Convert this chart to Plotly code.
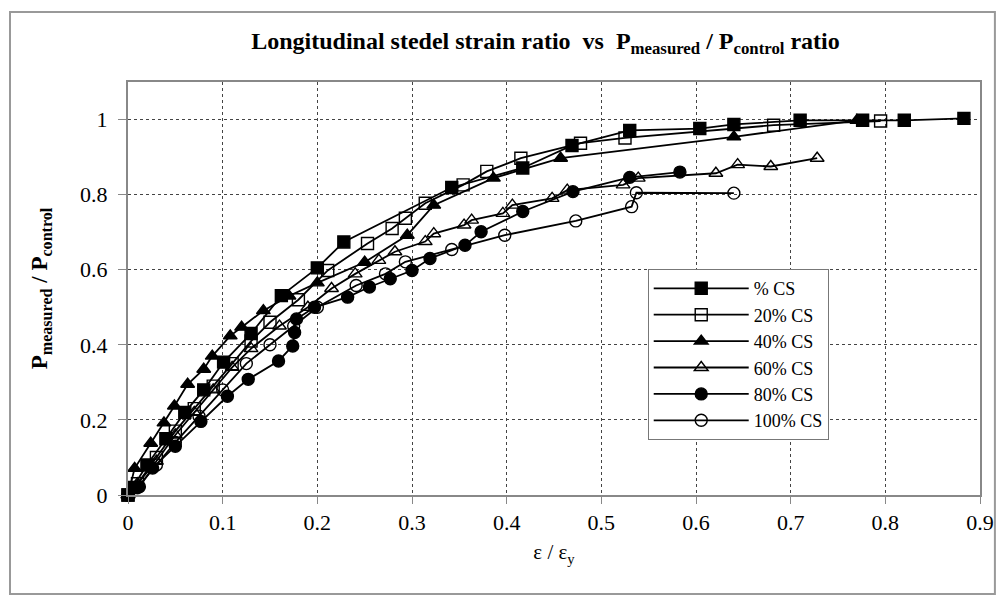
import plotly.graph_objects as go

# ---- data (x = eps/eps_y, y = P_measured/P_control)
names = ["% CS", "20% CS", "40% CS", "60% CS", "80% CS", "100% CS"]
symbols = ["square", "square-open", "triangle-up", "triangle-up-open", "circle", "circle-open"]

x_cs0 = [0, 0.005, 0.02, 0.04, 0.06, 0.08, 0.101, 0.13, 0.162, 0.2, 0.228, 0.342, 0.417, 0.469, 0.530, 0.604, 0.640, 0.710, 0.776, 0.820, 0.883]
y_cs0 = [0, 0.02, 0.08, 0.15, 0.22, 0.28, 0.354, 0.43, 0.531, 0.605, 0.674, 0.819, 0.871, 0.931, 0.971, 0.976, 0.987, 0.998, 0.998, 0.998, 1.003]

x_cs20 = [0, 0.01, 0.03, 0.05, 0.07, 0.09, 0.11, 0.13, 0.15, 0.18, 0.211, 0.253, 0.279, 0.293, 0.314, 0.354, 0.379, 0.415, 0.478, 0.525, 0.682, 0.795]
y_cs20 = [0, 0.03, 0.10, 0.17, 0.23, 0.29, 0.35, 0.41, 0.46, 0.52, 0.598, 0.670, 0.710, 0.737, 0.777, 0.826, 0.862, 0.897, 0.937, 0.951, 0.985, 0.996]

x_cs40 = [0, 0.007, 0.024, 0.038, 0.049, 0.063, 0.080, 0.089, 0.108, 0.120, 0.143, 0.17, 0.2, 0.25, 0.295, 0.323, 0.386, 0.457, 0.640, 0.770]
y_cs40 = [0, 0.071, 0.138, 0.192, 0.237, 0.295, 0.335, 0.370, 0.424, 0.447, 0.491, 0.53, 0.565, 0.62, 0.692, 0.772, 0.844, 0.897, 0.954, 0.998]

x_cs60 = [0, 0.01, 0.03, 0.05, 0.07, 0.09, 0.11, 0.13, 0.16, 0.19, 0.215, 0.24, 0.265, 0.282, 0.314, 0.323, 0.355, 0.363, 0.396, 0.406, 0.448, 0.464, 0.523, 0.539, 0.621, 0.644, 0.679, 0.728]
y_cs60 = [0, 0.03, 0.09, 0.16, 0.22, 0.28, 0.34, 0.39, 0.45, 0.50, 0.55, 0.589, 0.625, 0.648, 0.675, 0.696, 0.719, 0.732, 0.750, 0.772, 0.790, 0.812, 0.826, 0.844, 0.857, 0.880, 0.875, 0.897]

x_cs80 = [0, 0.012, 0.026, 0.05, 0.077, 0.105, 0.127, 0.159, 0.174, 0.176, 0.178, 0.197, 0.232, 0.255, 0.277, 0.300, 0.319, 0.356, 0.373, 0.417, 0.470, 0.530, 0.583]
y_cs80 = [0, 0.022, 0.072, 0.13, 0.196, 0.263, 0.308, 0.357, 0.397, 0.433, 0.469, 0.500, 0.527, 0.554, 0.576, 0.598, 0.630, 0.665, 0.701, 0.755, 0.808, 0.846, 0.860]

x_cs100 = [0, 0.01, 0.03, 0.05, 0.075, 0.10, 0.125, 0.15, 0.175, 0.20, 0.241, 0.272, 0.293, 0.342, 0.398, 0.473, 0.532, 0.537, 0.640]
y_cs100 = [0, 0.02, 0.08, 0.14, 0.21, 0.28, 0.35, 0.40, 0.45, 0.50, 0.558, 0.589, 0.621, 0.654, 0.692, 0.730, 0.768, 0.805, 0.804]

xs = [x_cs0, x_cs20, x_cs40, x_cs60, x_cs80, x_cs100]
ys = [y_cs0, y_cs20, y_cs40, y_cs60, y_cs80, y_cs100]

x_ticks = [0, 0.1, 0.2, 0.3, 0.4, 0.5, 0.6, 0.7, 0.8, 0.9]
y_ticks = [0, 0.2, 0.4, 0.6, 0.8, 1]

SERIF = "Liberation Serif"

fig = go.Figure()
for i in range(len(names)):
    fig.add_trace(go.Scatter(
        x=xs[i], y=ys[i], name=names[i], mode="lines+markers",
        legendgroup=str(i),
        line=dict(color="black", width=1.8),
        marker=dict(symbol=symbols[i], size=12, color="black",
                    line=dict(color="black", width=1.4)),
        cliponaxis=False,
    ))

# the page body adds an 8px offset, so the figure is 8px smaller each way
fig.update_layout(
    width=998, height=591,
    margin=dict(l=120, r=19, t=74, b=104),
    paper_bgcolor="white", plot_bgcolor="white",
    font=dict(family=SERIF, color="black", size=22),
    title=dict(
        text="<b>Longitudinal stedel strain ratio  vs  P<sub>measured</sub> / P<sub>control</sub> ratio</b>",
        x=0.49, xref="paper", xanchor="center", y=0.945, yanchor="middle",
        font=dict(family=SERIF, size=24, color="black"),
    ),
    legend=dict(
        x=0.61, y=0.547, xanchor="left", yanchor="top",
        bgcolor="white", bordercolor="#777", borderwidth=1,
        font=dict(family=SERIF, size=18, color="black"),
        tracegroupgap=0, itemwidth=95,
    ),
    showlegend=True,
)

fig.update_xaxes(
    range=[0, 0.9], tickvals=x_ticks, ticktext=[f"{v:g}" for v in x_ticks],
    showgrid=True, gridcolor="#444", griddash="dot", gridwidth=1,
    showline=True, linecolor="#888", linewidth=2, mirror=True,
    ticks="outside", ticklen=7, tickcolor="#888",
    zeroline=False,
    tickfont=dict(family=SERIF, size=22),
    title=dict(text="ε / ε<sub>y</sub>", font=dict(family=SERIF, size=21), standoff=10),
)
fig.update_yaxes(
    range=[0, 1.1], tickvals=y_ticks, ticktext=[f"{v:g}" for v in y_ticks],
    showgrid=True, gridcolor="#444", griddash="dot", gridwidth=1,
    showline=True, linecolor="#888", linewidth=2, mirror=True,
    ticks="outside", ticklen=8, tickcolor="#888",
    zeroline=False, ticklabelstandoff=6,
    tickfont=dict(family=SERIF, size=22),
    title=dict(text="<b>P<sub>measured</sub> / P<sub>control</sub></b>", font=dict(family=SERIF, size=23), standoff=26),
)

# outer chart frame
fig.add_shape(type="rect", xref="paper", yref="paper",
              x0=-0.1385, x1=1.0175, y0=-0.24, y1=1.1695,
              line=dict(color="#999", width=2), fillcolor="rgba(0,0,0,0)", layer="below")

fig.write_html("out.html")
